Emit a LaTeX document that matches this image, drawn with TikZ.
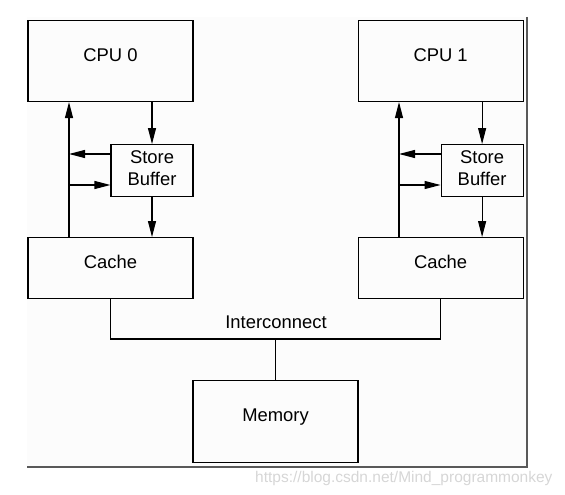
\documentclass[tikz,border=0pt]{standalone}
\usepackage{fontspec}
\setmainfont{Liberation Sans}
\usepackage{tikz}
\usetikzlibrary{arrows.meta}
\usetikzlibrary{positioning}

\begin{document}
\begin{tikzpicture}[x=1bp,y=-1bp,
	every node/.style={font=\fontsize{18.4bp}{21.5bp}\selectfont},
	unit/.style={draw,line width=1.1bp,minimum width=165bp,text depth=12bp,inner sep=0pt},
	sbox/.style={draw,line width=1.1bp,minimum width=82bp,minimum height=52bp,align=center,text depth=5bp,inner sep=0pt},
	arr/.style={line width=1.1bp,-{Triangle[length=16bp,width=8bp]}},
	wire/.style={line width=1.1bp},
	frame/.style={line width=1.8bp,black!65}]

	\useasboundingbox (0,0) rectangle (565,495);
	\fill[black!1] (27,17) rectangle (527,467);
	\draw[frame] (527,17) -- (527,467) -- (27,467);

	% processors, store buffers, caches
	\node[unit, minimum height=81bp] (cpu0) at (110.5,61) {CPU 0};
	\node[unit, minimum height=81bp, right=164bp of cpu0] (cpu1) {CPU 1};
	\node[unit, minimum height=61bp, below=135bp of cpu0] (cache0) {Cache};
	\node[unit, minimum height=61bp, below=135bp of cpu1] (cache1) {Cache};
	\node[sbox, anchor=north east] (sb0) at ([yshift=-42bp]cpu0.south east) {Store\\Buffer};
	\node[sbox, anchor=north east] (sb1) at ([yshift=-42bp]cpu1.south east) {Store\\Buffer};
	\node[unit, minimum height=82bp] (mem) at (275.5,421.5) {Memory};

	\coordinate (tap0a) at (69,154);
	\coordinate (tap0b) at (69,185);
	\coordinate (tap1a) at (399,154);
	\coordinate (tap1b) at (399,185);
	\coordinate (bus) at (275.5,339);
	\node[anchor=base] (ic) at (276,328) {Interconnect};

	\draw[arr] (cache0.north -| tap0a) -- (cpu0.south -| tap0a);
	\draw[arr] (sb0.west |- tap0a) -- (tap0a);
	\draw[arr] (tap0b) -- (sb0.west |- tap0b);
	\draw[arr] (cpu0.south -| sb0.south) -- (sb0.north);
	\draw[arr] (sb0.south) -- (cache0.north -| sb0.south);

	\draw[arr] (cache1.north -| tap1a) -- (cpu1.south -| tap1a);
	\draw[arr] (sb1.west |- tap1a) -- (tap1a);
	\draw[arr] (tap1b) -- (sb1.west |- tap1b);
	\draw[arr] (cpu1.south -| sb1.south) -- (sb1.north);
	\draw[arr] (sb1.south) -- (cache1.north -| sb1.south);

	\draw[wire] (cache0.south) |- (bus) -| (cache1.south);
	\draw[wire] (bus) -- (mem.north);

	\node[anchor=base east, font=\fontsize{15.5bp}{18bp}\selectfont, text=black!16] (wm) at (556,482) {https://blog.csdn.net/Mind\_programmonkey};
\end{tikzpicture}
\end{document}
